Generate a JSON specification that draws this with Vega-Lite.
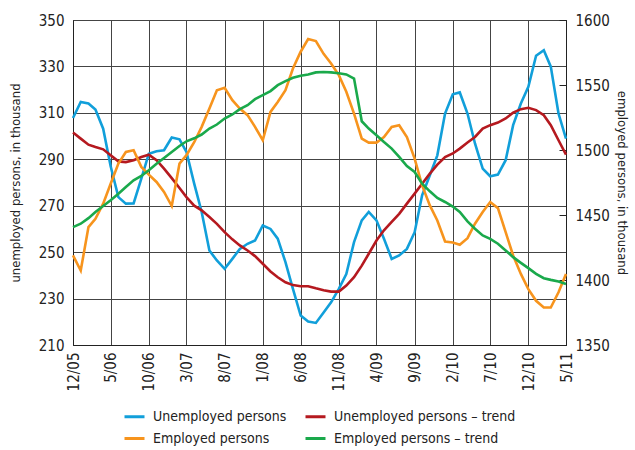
{
  "$schema": "https://vega.github.io/schema/vega-lite/v6.json",
  "width": 493,
  "height": 325,
  "autosize": {"type": "none"},
  "padding": {"left": 73, "top": 20, "right": 69, "bottom": 105},
  "background": "white",
  "config": {
    "font": "DejaVu Sans Condensed, Roboto, sans-serif",
    "view": {"stroke": "#222", "strokeWidth": 1},
    "axis": {"labelFont": "DejaVu Sans Condensed, Roboto, sans-serif", "titleFont": "DejaVu Sans Condensed, Roboto, sans-serif", "labelColor": "#222", "titleColor": "#222", "gridColor": "#444", "gridWidth": 1, "gridOpacity": 1, "domainColor": "#222", "labelFontSize": 15, "titleFontSize": 13, "titleFontWeight": "normal"},
    "legend": {"labelFont": "DejaVu Sans Condensed, Roboto, sans-serif", "labelFontSize": 14, "labelColor": "#222"}
  },
  "data": {
    "format": {"parse": {"date": "date:'%Y-%m'"}},
    "values": [
      {"date": "2005-12", "Unemployed persons": 307.8, "Unemployed persons – trend": 301.5, "Employed persons": 1418.9, "Employed persons – trend": 1440.7},
      {"date": "2006-01", "Unemployed persons": 314.7, "Unemployed persons – trend": 298.9, "Employed persons": 1407.3, "Employed persons – trend": 1443.3},
      {"date": "2006-02", "Unemployed persons": 314.0, "Unemployed persons – trend": 296.3, "Employed persons": 1440.7, "Employed persons – trend": 1447.6},
      {"date": "2006-03", "Unemployed persons": 311.4, "Unemployed persons – trend": 295.3, "Employed persons": 1447.1, "Employed persons – trend": 1452.3},
      {"date": "2006-04", "Unemployed persons": 303.2, "Unemployed persons – trend": 294.3, "Employed persons": 1458.7, "Employed persons – trend": 1456.9},
      {"date": "2006-05", "Unemployed persons": 287.0, "Unemployed persons – trend": 291.7, "Employed persons": 1474.1, "Employed persons – trend": 1461.3},
      {"date": "2006-06", "Unemployed persons": 273.7, "Unemployed persons – trend": 289.1, "Employed persons": 1489.5, "Employed persons – trend": 1466.4},
      {"date": "2006-07", "Unemployed persons": 270.9, "Unemployed persons – trend": 288.8, "Employed persons": 1498.5, "Employed persons – trend": 1471.5},
      {"date": "2006-08", "Unemployed persons": 271.0, "Unemployed persons – trend": 289.6, "Employed persons": 1499.8, "Employed persons – trend": 1476.7},
      {"date": "2006-09", "Unemployed persons": 281.7, "Unemployed persons – trend": 291.0, "Employed persons": 1487.0, "Employed persons – trend": 1480.0},
      {"date": "2006-10", "Unemployed persons": 292.4, "Unemployed persons – trend": 292.0, "Employed persons": 1481.1, "Employed persons – trend": 1484.4},
      {"date": "2006-11", "Unemployed persons": 293.5, "Unemployed persons – trend": 289.6, "Employed persons": 1475.4, "Employed persons – trend": 1489.5},
      {"date": "2006-12", "Unemployed persons": 293.9, "Unemployed persons – trend": 286.0, "Employed persons": 1467.7, "Employed persons – trend": 1493.9},
      {"date": "2007-01", "Unemployed persons": 299.4, "Unemployed persons – trend": 281.9, "Employed persons": 1456.9, "Employed persons – trend": 1498.5},
      {"date": "2007-02", "Unemployed persons": 298.6, "Unemployed persons – trend": 277.6, "Employed persons": 1489.5, "Employed persons – trend": 1503.1},
      {"date": "2007-03", "Unemployed persons": 293.2, "Unemployed persons – trend": 273.7, "Employed persons": 1496.0, "Employed persons – trend": 1506.7},
      {"date": "2007-04", "Unemployed persons": 279.5, "Unemployed persons – trend": 270.0, "Employed persons": 1506.0, "Employed persons – trend": 1509.0},
      {"date": "2007-05", "Unemployed persons": 267.3, "Unemployed persons – trend": 268.0, "Employed persons": 1517.8, "Employed persons – trend": 1511.9},
      {"date": "2007-06", "Unemployed persons": 250.7, "Unemployed persons – trend": 265.1, "Employed persons": 1531.9, "Employed persons – trend": 1516.5},
      {"date": "2007-07", "Unemployed persons": 246.4, "Unemployed persons – trend": 262.2, "Employed persons": 1546.0, "Employed persons – trend": 1519.6},
      {"date": "2007-08", "Unemployed persons": 242.8, "Unemployed persons – trend": 258.6, "Employed persons": 1547.8, "Employed persons – trend": 1524.2},
      {"date": "2007-09", "Unemployed persons": 247.1, "Unemployed persons – trend": 255.5, "Employed persons": 1538.3, "Employed persons – trend": 1527.3},
      {"date": "2007-10", "Unemployed persons": 251.4, "Unemployed persons – trend": 252.9, "Employed persons": 1531.9, "Employed persons – trend": 1531.4},
      {"date": "2007-11", "Unemployed persons": 253.6, "Unemployed persons – trend": 250.7, "Employed persons": 1526.8, "Employed persons – trend": 1534.5},
      {"date": "2007-12", "Unemployed persons": 255.0, "Unemployed persons – trend": 248.3, "Employed persons": 1517.8, "Employed persons – trend": 1539.1},
      {"date": "2008-01", "Unemployed persons": 261.5, "Unemployed persons – trend": 245.0, "Employed persons": 1507.5, "Employed persons – trend": 1542.2},
      {"date": "2008-02", "Unemployed persons": 260.0, "Unemployed persons – trend": 241.7, "Employed persons": 1529.3, "Employed persons – trend": 1545.3},
      {"date": "2008-03", "Unemployed persons": 255.8, "Unemployed persons – trend": 239.2, "Employed persons": 1537.0, "Employed persons – trend": 1549.9},
      {"date": "2008-04", "Unemployed persons": 245.7, "Unemployed persons – trend": 237.0, "Employed persons": 1546.0, "Employed persons – trend": 1553.0},
      {"date": "2008-05", "Unemployed persons": 234.2, "Unemployed persons – trend": 235.8, "Employed persons": 1562.7, "Employed persons – trend": 1555.5},
      {"date": "2008-06", "Unemployed persons": 222.7, "Unemployed persons – trend": 235.3, "Employed persons": 1575.6, "Employed persons – trend": 1557.1},
      {"date": "2008-07", "Unemployed persons": 220.1, "Unemployed persons – trend": 235.3, "Employed persons": 1585.4, "Employed persons – trend": 1558.1},
      {"date": "2008-08", "Unemployed persons": 219.5, "Unemployed persons – trend": 234.4, "Employed persons": 1583.8, "Employed persons – trend": 1559.7},
      {"date": "2008-09", "Unemployed persons": 224.0, "Unemployed persons – trend": 233.6, "Employed persons": 1574.0, "Employed persons – trend": 1560.0},
      {"date": "2008-10", "Unemployed persons": 228.4, "Unemployed persons – trend": 233.0, "Employed persons": 1566.6, "Employed persons – trend": 1559.7},
      {"date": "2008-11", "Unemployed persons": 234.2, "Unemployed persons – trend": 233.0, "Employed persons": 1557.6, "Employed persons – trend": 1559.1},
      {"date": "2008-12", "Unemployed persons": 240.6, "Unemployed persons – trend": 235.6, "Employed persons": 1544.8, "Employed persons – trend": 1558.1},
      {"date": "2009-01", "Unemployed persons": 254.3, "Unemployed persons – trend": 239.2, "Employed persons": 1528.0, "Employed persons – trend": 1555.0},
      {"date": "2009-02", "Unemployed persons": 263.7, "Unemployed persons – trend": 244.2, "Employed persons": 1508.8, "Employed persons – trend": 1522.1},
      {"date": "2009-03", "Unemployed persons": 267.3, "Unemployed persons – trend": 249.3, "Employed persons": 1505.7, "Employed persons – trend": 1516.5},
      {"date": "2009-04", "Unemployed persons": 263.7, "Unemployed persons – trend": 255.0, "Employed persons": 1505.7, "Employed persons – trend": 1511.4},
      {"date": "2009-05", "Unemployed persons": 255.8, "Unemployed persons – trend": 259.4, "Employed persons": 1510.0, "Employed persons – trend": 1506.2},
      {"date": "2009-06", "Unemployed persons": 247.1, "Unemployed persons – trend": 263.0, "Employed persons": 1517.8, "Employed persons – trend": 1501.1},
      {"date": "2009-07", "Unemployed persons": 248.6, "Unemployed persons – trend": 266.5, "Employed persons": 1519.1, "Employed persons – trend": 1494.7},
      {"date": "2009-08", "Unemployed persons": 251.4, "Unemployed persons – trend": 270.9, "Employed persons": 1510.0, "Employed persons – trend": 1487.7},
      {"date": "2009-09", "Unemployed persons": 258.6, "Unemployed persons – trend": 275.2, "Employed persons": 1493.4, "Employed persons – trend": 1483.1},
      {"date": "2009-10", "Unemployed persons": 274.5, "Unemployed persons – trend": 279.5, "Employed persons": 1472.8, "Employed persons – trend": 1474.1},
      {"date": "2009-11", "Unemployed persons": 283.1, "Unemployed persons – trend": 283.8, "Employed persons": 1457.4, "Employed persons – trend": 1468.2},
      {"date": "2009-12", "Unemployed persons": 291.7, "Unemployed persons – trend": 287.7, "Employed persons": 1445.8, "Employed persons – trend": 1463.1},
      {"date": "2010-01", "Unemployed persons": 309.7, "Unemployed persons – trend": 291.0, "Employed persons": 1429.6, "Employed persons – trend": 1460.0},
      {"date": "2010-02", "Unemployed persons": 318.0, "Unemployed persons – trend": 292.5, "Employed persons": 1428.8, "Employed persons – trend": 1456.5},
      {"date": "2010-03", "Unemployed persons": 318.8, "Unemployed persons – trend": 294.6, "Employed persons": 1427.1, "Employed persons – trend": 1452.3},
      {"date": "2010-04", "Unemployed persons": 309.7, "Unemployed persons – trend": 297.2, "Employed persons": 1432.2, "Employed persons – trend": 1445.1},
      {"date": "2010-05", "Unemployed persons": 296.8, "Unemployed persons – trend": 299.6, "Employed persons": 1443.3, "Employed persons – trend": 1439.4},
      {"date": "2010-06", "Unemployed persons": 286.0, "Unemployed persons – trend": 303.2, "Employed persons": 1452.3, "Employed persons – trend": 1434.3},
      {"date": "2010-07", "Unemployed persons": 282.7, "Unemployed persons – trend": 304.7, "Employed persons": 1460.0, "Employed persons – trend": 1431.7},
      {"date": "2010-08", "Unemployed persons": 283.4, "Unemployed persons – trend": 305.8, "Employed persons": 1455.3, "Employed persons – trend": 1427.9},
      {"date": "2010-09", "Unemployed persons": 289.6, "Unemployed persons – trend": 307.6, "Employed persons": 1436.8, "Employed persons – trend": 1422.7},
      {"date": "2010-10", "Unemployed persons": 304.7, "Unemployed persons – trend": 310.1, "Employed persons": 1418.9, "Employed persons – trend": 1417.6},
      {"date": "2010-11", "Unemployed persons": 314.0, "Unemployed persons – trend": 311.6, "Employed persons": 1404.7, "Employed persons – trend": 1413.2},
      {"date": "2010-12", "Unemployed persons": 321.2, "Unemployed persons – trend": 312.2, "Employed persons": 1393.0, "Employed persons – trend": 1409.1},
      {"date": "2011-01", "Unemployed persons": 334.6, "Unemployed persons – trend": 311.2, "Employed persons": 1384.0, "Employed persons – trend": 1404.7},
      {"date": "2011-02", "Unemployed persons": 337.0, "Unemployed persons – trend": 309.0, "Employed persons": 1378.8, "Employed persons – trend": 1401.4},
      {"date": "2011-03", "Unemployed persons": 329.9, "Unemployed persons – trend": 304.7, "Employed persons": 1378.8, "Employed persons – trend": 1400.1},
      {"date": "2011-04", "Unemployed persons": 309.7, "Unemployed persons – trend": 298.2, "Employed persons": 1390.6, "Employed persons – trend": 1398.8},
      {"date": "2011-05", "Unemployed persons": 298.9, "Unemployed persons – trend": 292.0, "Employed persons": 1404.7, "Employed persons – trend": 1397.0}
    ]
  },
  "encoding": {
    "x": {
      "field": "date",
      "type": "temporal",
      "title": null,
      "scale": {"domain": [{"year": 2005, "month": 12, "date": 1}, {"year": 2011, "month": 5, "date": 1}], "nice": false},
      "axis": {
        "values": [
          {"year": 2005, "month": 12, "date": 1}, {"year": 2006, "month": 5, "date": 1}, {"year": 2006, "month": 10, "date": 1},
          {"year": 2007, "month": 3, "date": 1}, {"year": 2007, "month": 8, "date": 1}, {"year": 2008, "month": 1, "date": 1},
          {"year": 2008, "month": 6, "date": 1}, {"year": 2008, "month": 11, "date": 1}, {"year": 2009, "month": 4, "date": 1},
          {"year": 2009, "month": 9, "date": 1}, {"year": 2010, "month": 2, "date": 1}, {"year": 2010, "month": 7, "date": 1},
          {"year": 2010, "month": 12, "date": 1}, {"year": 2011, "month": 5, "date": 1}
        ],
        "format": "%-m/%y",
        "labelAngle": -90,
        "labelPadding": 7,
        "ticks": false,
        "grid": true,
        "labelFlush": false,
        "labelOverlap": false
      }
    },
    "color": {
      "field": "series",
      "type": "nominal",
      "scale": {
        "domain": ["Unemployed persons", "Employed persons", "Unemployed persons – trend", "Employed persons – trend"],
        "range": ["#119fda", "#f7941d", "#b5191f", "#1aa94b"]
      },
      "legend": {
        "title": null,
        "orient": "none",
        "legendX": 50,
        "legendY": 385,
        "columns": 2,
        "columnPadding": 12,
        "rowPadding": 3,
        "symbolType": "stroke",
        "symbolStrokeWidth": 3,
        "symbolSize": 400,
        "labelOffset": 7,
        "labelLimit": 300
      }
    }
  },
  "layer": [
    {
      "transform": [{"fold": ["Unemployed persons", "Unemployed persons – trend"], "as": ["series", "value"]}],
      "mark": {"type": "line", "strokeWidth": 2.6},
      "encoding": {
        "y": {
          "field": "value",
          "type": "quantitative",
          "scale": {"domain": [210, 350], "nice": false, "zero": false},
          "axis": {"orient": "left", "values": [210, 230, 250, 270, 290, 310, 330, 350], "title": "unemployed persons, in thousand", "ticks": false, "labelPadding": 9, "titlePadding": 16, "grid": true}
        }
      }
    },
    {
      "transform": [{"fold": ["Employed persons", "Employed persons – trend"], "as": ["series", "value"]}],
      "mark": {"type": "line", "strokeWidth": 2.6},
      "encoding": {
        "y": {
          "field": "value",
          "type": "quantitative",
          "scale": {"domain": [1350, 1600], "nice": false, "zero": false},
          "axis": {"orient": "right", "values": [1350, 1400, 1450, 1500, 1550, 1600], "format": "d", "title": "employed persons, in thousand", "ticks": true, "tickSize": -7, "tickColor": "#222", "labelPadding": 16, "titlePadding": 5, "grid": false}
        }
      }
    }
  ],
  "resolve": {"scale": {"y": "independent"}, "axis": {"y": "independent"}}
}
